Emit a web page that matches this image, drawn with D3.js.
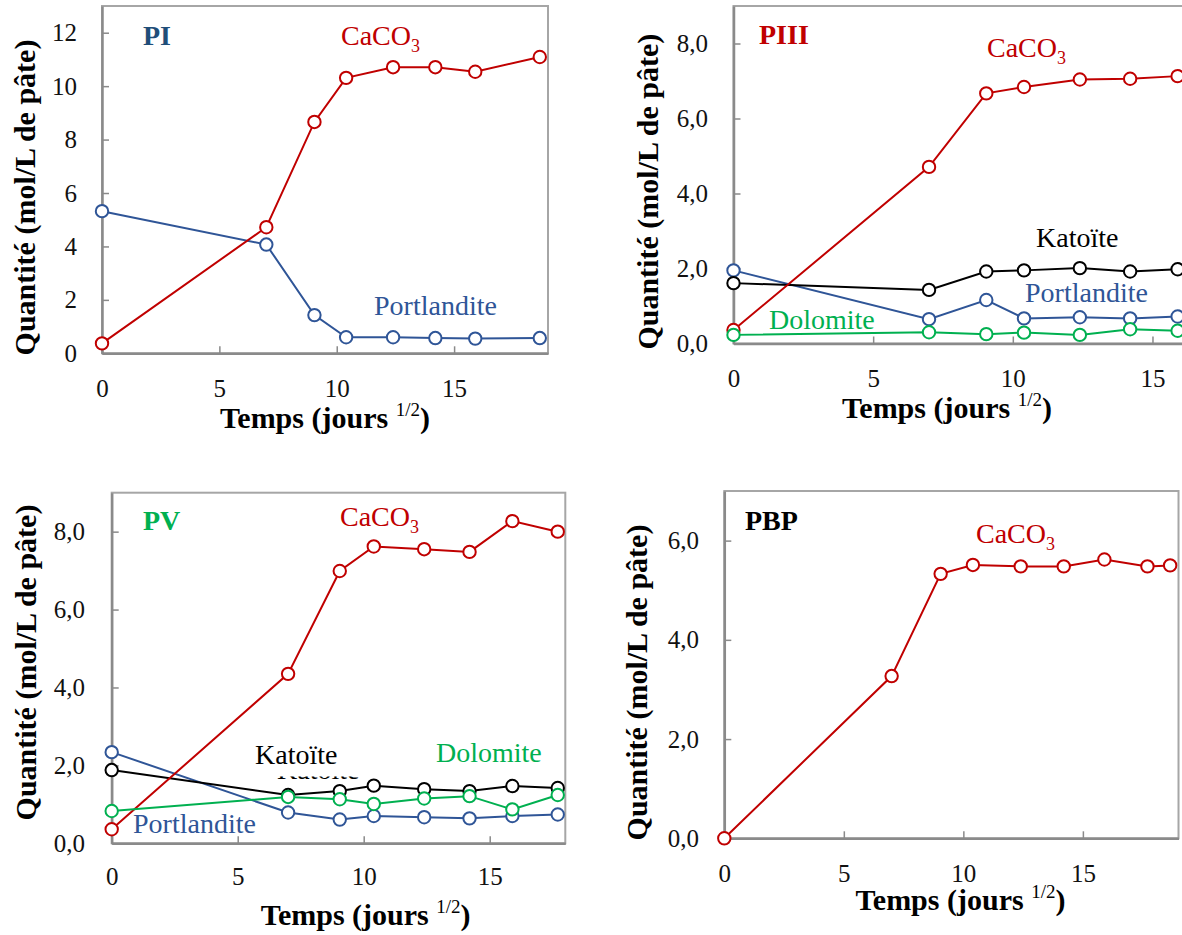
<!DOCTYPE html>
<html>
<head>
<meta charset="utf-8">
<script src="https://cdn.jsdelivr.net/npm/d3@7"></script>
<style>
  html, body { margin: 0; padding: 0; background: #ffffff; }
  svg { display: block; }
  text { font-family: "Liberation Serif", "Times New Roman", serif; }
</style>
</head>
<body>
<svg id="chart" width="1182" height="935"></svg>
<script>
// ---------------- DATA ----------------
const xTicks = [0, 5, 10, 15];

// Panel PI
const timePI = [0, 7, 9.05, 10.4, 12.4, 14.2, 15.9, 18.65];
const piCaCO3 = [0.37, 4.72, 8.66, 10.31, 10.71, 10.71, 10.54, 11.09];
const piPortlandite = [5.32, 4.07, 1.43, 0.60, 0.60, 0.57, 0.55, 0.57];
const yTicksPI = [0, 2, 4, 6, 8, 10, 12];

// Panel PIII
const timePIII = [0, 7, 9.05, 10.4, 12.4, 14.2, 15.9];
const piiiCaCO3 = [0.36, 4.71, 6.67, 6.84, 7.04, 7.06, 7.13];
const piiiKatoite = [1.61, 1.43, 1.92, 1.95, 2.01, 1.92, 1.98];
const piiiPortlandite = [1.95, 0.65, 1.16, 0.67, 0.70, 0.67, 0.72];
const piiiDolomite = [0.23, 0.30, 0.25, 0.29, 0.23, 0.38, 0.34];
const yTicksPIII = [0, 2, 4, 6, 8];

// Panel PV
const timePV = [0, 7, 9.05, 10.4, 12.4, 14.2, 15.9, 17.7];
const pvCaCO3 = [0.36, 4.35, 6.99, 7.62, 7.55, 7.48, 8.27, 8.00];
const pvKatoite = [1.88, 1.24, 1.34, 1.48, 1.39, 1.34, 1.47, 1.42];
const pvDolomite = [0.83, 1.19, 1.13, 1.01, 1.15, 1.21, 0.87, 1.24];
const pvPortlandite = [2.34, 0.79, 0.61, 0.70, 0.67, 0.64, 0.70, 0.74];
const yTicksPV = [0, 2, 4, 6, 8];

// Panel PBP
const timePBP = [0, 7, 9.05, 10.4, 12.4, 14.2, 15.9, 17.7, 18.65];
const pbpCaCO3 = [0.00, 3.27, 5.33, 5.51, 5.48, 5.48, 5.62, 5.48, 5.50];
const yTicksPBP = [0, 2, 4, 6];

// Text
const yTitle = "Quantité (mol/L de pâte)";
const xTitleMain = "Temps (jours ";
const xTitleSup = "1/2";

// ---------------- STYLE ----------------
const RED = "#C00000", BLUE = "#2F5597", DARKBLUE = "#1F4E79", GREEN = "#00B050", BLACK = "#000000";
const AXIS = "#8a8a8a", FRAME = "#a6a6a6";

const svg = d3.select("#chart");
const fmtInt = d3.format("d");
const fmtComma = d => d3.format(".1f")(d).replace(".", ",");

function drawPanel(cfg) {
  const g = svg.append("g");
  const x = d3.scaleLinear().domain(cfg.xDomain).range([cfg.left, cfg.right]);
  const y = d3.scaleLinear().domain(cfg.yDomain).range([cfg.bottom, cfg.top]);

  // frame
  g.append("rect")
    .attr("x", cfg.left).attr("y", cfg.top)
    .attr("width", cfg.right - cfg.left).attr("height", cfg.bottom - cfg.top)
    .attr("fill", "none").attr("stroke", FRAME).attr("stroke-width", 2);

  // axes
  const yAxis = d3.axisLeft(y).tickValues(cfg.yTicks).tickFormat(cfg.fmt)
    .tickSizeInner(-7).tickSizeOuter(0).tickPadding(cfg.yPad);
  const xAxis = d3.axisBottom(x).tickValues(xTicks).tickFormat(fmtInt)
    .tickSizeInner(-7).tickSizeOuter(0).tickPadding(cfg.xPad);

  const gy = g.append("g").attr("transform", `translate(${cfg.left},0)`).call(yAxis);
  const gx = g.append("g").attr("transform", `translate(0,${cfg.bottom})`).call(xAxis);
  [gx, gy].forEach(a => {
    a.select(".domain").attr("stroke", AXIS).attr("stroke-width", 2.5);
    a.selectAll(".tick line").attr("stroke", AXIS).attr("stroke-width", 1.5);
    a.selectAll(".tick text").attr("font-family", "Liberation Serif, serif")
      .attr("font-size", 25).attr("fill", "#111");
  });

  // series
  const line = d3.line().x(d => x(d[0])).y(d => y(d[1]));
  cfg.series.forEach(s => {
    const pts = s.x.map((t, i) => [t, s.y[i]]);
    g.append("path").datum(pts).attr("d", line)
      .attr("fill", "none").attr("stroke", s.color).attr("stroke-width", 2);
    g.selectAll(null).data(pts).enter().append("circle")
      .attr("cx", d => x(d[0])).attr("cy", d => y(d[1])).attr("r", 6.2)
      .attr("fill", "#ffffff").attr("stroke", s.color).attr("stroke-width", 2);
  });

  // labels
  cfg.labels.forEach(l => {
    const t = g.append("text").attr("x", l.x).attr("y", l.y)
      .attr("fill", l.color).attr("font-size", l.bold ? 28 : 28)
      .attr("font-weight", l.bold ? "bold" : "normal");
    if (l.sub) {
      t.append("tspan").text(l.text);
      t.append("tspan").text(l.sub).attr("font-size", 18).attr("dy", 7);
    } else {
      t.text(l.text);
    }
  });

  // axis titles
  const xt = g.append("text").attr("x", cfg.xTitle[0]).attr("y", cfg.xTitle[1])
    .attr("text-anchor", "middle").attr("font-size", 30).attr("font-weight", "bold").attr("fill", "#000");
  xt.append("tspan").text(xTitleMain);
  xt.append("tspan").text(xTitleSup).attr("font-size", 19).attr("font-weight", "normal").attr("dy", -12);
  xt.append("tspan").text(")").attr("dy", 12);

  g.append("text")
    .attr("transform", `translate(${cfg.yTitle[0]},${cfg.yTitle[1]}) rotate(-90)`)
    .attr("text-anchor", "middle").attr("font-size", 30).attr("font-weight", "bold").attr("fill", "#000")
    .text(yTitle);
  return g;
}

// PI
drawPanel({
  left: 102, right: 548, top: 6, bottom: 353.3,
  xDomain: [0, 19], yDomain: [0, 13], yTicks: yTicksPI, fmt: fmtInt, yPad: 25, xPad: 25.6,
  series: [
    { x: timePI, y: piPortlandite, color: BLUE },
    { x: timePI, y: piCaCO3, color: RED }
  ],
  labels: [
    { text: "PI", x: 143, y: 45, color: DARKBLUE, bold: true },
    { text: "CaCO", sub: "3", x: 341, y: 45, color: RED },
    { text: "Portlandite", x: 374, y: 315, color: BLUE }
  ],
  xTitle: [325, 428], yTitle: [35, 197.5]
});

// PIII
drawPanel({
  left: 733.5, right: 1264.2, top: 6, bottom: 343.5,
  xDomain: [0, 19], yDomain: [0, 9], yTicks: yTicksPIII, fmt: fmtComma, yPad: 25.5, xPad: 26,
  series: [
    { x: timePIII, y: piiiPortlandite, color: BLUE },
    { x: timePIII, y: piiiKatoite, color: BLACK },
    { x: timePIII, y: piiiCaCO3, color: RED },
    { x: timePIII, y: piiiDolomite, color: GREEN }
  ],
  labels: [
    { text: "PIII", x: 759, y: 44, color: RED, bold: true },
    { text: "CaCO", sub: "3", x: 987, y: 57, color: RED },
    { text: "Katoïte", x: 1036, y: 246.7, color: BLACK },
    { text: "Portlandite", x: 1025, y: 301.7, color: BLUE },
    { text: "Dolomite", x: 769, y: 329.3, color: GREEN }
  ],
  xTitle: [947, 418.3], yTitle: [658, 191.7]
});

// PV
const gPV = drawPanel({
  left: 111.7, right: 565.3, top: 492.7, bottom: 843.3,
  xDomain: [0, 18], yDomain: [0, 9], yTicks: yTicksPV, fmt: fmtComma, yPad: 26.7, xPad: 24,
  series: [
    { x: timePV, y: pvPortlandite, color: BLUE },
    { x: timePV, y: pvKatoite, color: BLACK },
    { x: timePV, y: pvCaCO3, color: RED },
    { x: timePV, y: pvDolomite, color: GREEN }
  ],
  labels: [
    { text: "PV", x: 143, y: 530, color: GREEN, bold: true },
    { text: "CaCO", sub: "3", x: 340, y: 525.7, color: RED },
    { text: "Katoïte", x: 255, y: 764, color: BLACK },
    { text: "Dolomite", x: 436, y: 761.7, color: GREEN },
    { text: "Portlandite", x: 133, y: 833.3, color: BLUE }
  ],
  xTitle: [365.6, 925], yTitle: [36, 662.5]
});
// partly hidden duplicate label (only its lowest pixels show)
svg.append("defs").append("clipPath").attr("id", "hidKat")
  .append("rect").attr("x", 270).attr("y", 776.5).attr("width", 100).attr("height", 4);
gPV.append("text").attr("x", 277).attr("y", 779).attr("font-size", 28)
  .attr("clip-path", "url(#hidKat)").attr("fill", BLACK).text("Katoïte");

// PBP
drawPanel({
  left: 724.3, right: 1178.5, top: 491, bottom: 838.3,
  xDomain: [0, 19], yDomain: [0, 7], yTicks: yTicksPBP, fmt: fmtComma, yPad: 25.3, xPad: 25.6,
  series: [
    { x: timePBP, y: pbpCaCO3, color: RED }
  ],
  labels: [
    { text: "PBP", x: 745, y: 530, color: BLACK, bold: true },
    { text: "CaCO", sub: "3", x: 976, y: 543.3, color: RED }
  ],
  xTitle: [960.5, 910], yTitle: [647, 682.5]
});
</script>
</body>
</html>
